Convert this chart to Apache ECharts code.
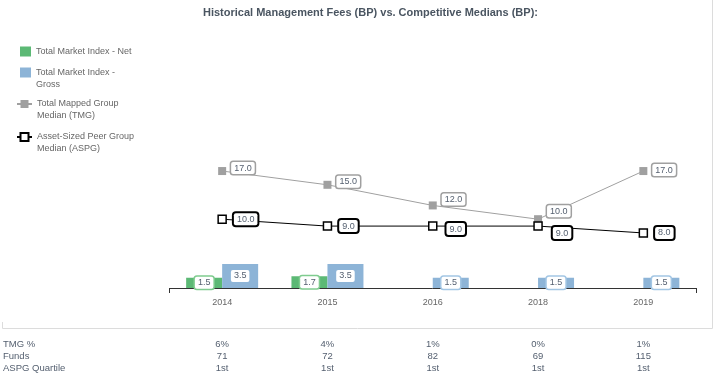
<!DOCTYPE html>
<html>
<head>
<meta charset="utf-8">
<script src="https://cdn.jsdelivr.net/npm/echarts@6/dist/echarts.min.js"></script>
<style>
  html, body { margin: 0; padding: 0; background: #fff; }
  #chart { width: 726px; height: 375px; }
</style>
</head>
<body>
<div id="chart"></div>
<script>
// data
const categories = ['2014', '2015', '2016', '2018', '2019']
const netFees = [1.5, 1.7, null, null, null]
const grossFees = [3.5, 3.5, 1.5, 1.5, 1.5]
const tmgMedian = [17, 15, 12, 10, 17]
const aspgMedian = [10, 9, 9, 9, 8]
const tmgPct = ['6%', '4%', '1%', '0%', '1%']
const funds = ['71', '72', '82', '69', '115']
const aspgQuartile = ['1st', '1st', '1st', '1st', '1st']

// label nudges so the boxes don't collide (styling only)
const tmgShift = [[0, -3], [0, -3], [0, -6], [0, -8], [0, -1]]
const aspgShift = [[0, 0], [0, 0], [2, 3], [3, 7], [0, 0]]

const font = '"Liberation Sans", Arial, sans-serif'
const green = '#5cb975'
const blue = '#8db4d7'
const textGray = '#556070'

const chart = echarts.init(document.getElementById('chart'))

function boxLabel(border, width) {
  return {
    show: true,
    fontSize: 9,
    fontFamily: font,
    color: textGray,
    backgroundColor: '#fff',
    borderColor: border,
    borderWidth: width,
    borderRadius: 2,
    padding: [2, 3, 1, 3],
    formatter: (p) => p.value.toFixed(1),
  }
}

function tableAxis(name, offset, values) {
  return {
    type: 'category',
    data: categories,
    position: 'bottom',
    offset: offset,
    axisLine: { show: false },
    axisTick: { show: false },
    axisLabel: {
      margin: 0,
      fontSize: 9.5,
      fontFamily: font,
      color: textGray,
      formatter: (v, i) => values[i],
    },
    name: name,
    nameLocation: 'start',
    nameGap: 166.5,
    nameTextStyle: {
      align: 'left',
      verticalAlign: 'top',
      fontSize: 9.5,
      fontFamily: font,
      color: textGray,
    },
  }
}

function legendFor(name, top, left, w, text, icon) {
  return {
    orient: 'vertical',
    left: left,
    top: top,
    padding: 0,
    itemWidth: w,
    itemHeight: 10,
    icon: icon,
    data: [name],
    formatter: () => text,
    textStyle: { fontSize: 9, fontFamily: font, color: '#666', lineHeight: 12 },
  }
}

let option = {
  animation: false,
  title: {
    text: 'Historical Management Fees (BP) vs. Competitive Medians (BP):',
    left: 198,
    top: 2,
    textStyle: { fontSize: 11, fontWeight: 'bold', fontFamily: font, color: '#4a5561' },
  },
  legend: [
    legendFor('Total Market Index - Net', 45.5, 20, 11, 'Total Market Index - Net', 'rect'),
    legendFor('Total Market Index - Gross', 54.5, 20, 11, '\nTotal Market Index -\nGross', 'rect'),
    legendFor('Total Mapped Group Median (TMG)', 86, 16, 15, '\nTotal Mapped Group\nMedian (TMG)'),
    legendFor('Asset-Sized Peer Group Median (ASPG)', 119, 16, 15, '\nAsset-Sized Peer Group\nMedian (ASPG)'),
  ],
  grid: { left: 169.5, right: 30, top: 116, height: 172 },
  xAxis: [
    {
      type: 'category',
      data: categories,
      axisLine: { lineStyle: { color: '#333', width: 1 } },
      axisTick: { show: true, length: 5, interval: (i) => i === 0, lineStyle: { color: '#333' } },
      axisLabel: { margin: 10, fontSize: 9, fontFamily: font, color: '#666' },
    },
    tableAxis('TMG %', 51, tmgPct),
    tableAxis('Funds', 63.5, funds),
    tableAxis('ASPG Quartile', 75.5, aspgQuartile),
  ],
  yAxis: { type: 'value', min: 0, max: 25, show: false, splitLine: { show: false } },
  series: [
    {
      name: 'Total Market Index - Net',
      type: 'bar',
      barWidth: 36,
      barGap: 0,
      itemStyle: { color: green },
      label: Object.assign(boxLabel('#7fcc8f', 1.5), { position: 'inside' }),
      data: netFees,
    },
    {
      name: 'Total Market Index - Gross',
      type: 'bar',
      barWidth: 36,
      barGap: 0,
      itemStyle: { color: blue },
      label: Object.assign(boxLabel('#fff', 0), { position: 'inside' }),
      data: grossFees.map((v) => ({
        value: v,
        label: v < 2 ? { borderColor: '#a3c6e4', borderWidth: 1.5 } : {},
      })),
    },
    {
      name: 'Total Mapped Group Median (TMG)',
      type: 'line',
      symbol: 'rect',
      symbolSize: 8,
      itemStyle: { color: '#a0a0a0' },
      lineStyle: { color: '#a0a0a0', width: 1 },
      label: Object.assign(boxLabel('#a0a0a0', 1.5), { position: 'right', distance: 5 }),
      data: tmgMedian.map((v, i) => ({ value: v, label: { offset: tmgShift[i] } })),
    },
    {
      name: 'Asset-Sized Peer Group Median (ASPG)',
      type: 'line',
      symbol: 'rect',
      symbolSize: 8,
      itemStyle: { color: '#fff', borderColor: '#000', borderWidth: 1.5 },
      lineStyle: { color: '#000', width: 1 },
      label: Object.assign(boxLabel('#000', 2), { position: 'right', distance: 7 }),
      data: aspgMedian.map((v, i) => ({ value: v, label: { offset: aspgShift[i] } })),
    },
  ],
  graphic: [
    {
      type: 'polyline',
      silent: true,
      shape: { points: [[2.5, 322], [2.5, 328.5], [712.5, 328.5], [712.5, 0]] },
      style: { stroke: '#dcdcdc', lineWidth: 1, fill: null },
    },
  ],
}

chart.setOption(option)
window.addEventListener('resize', () => {
  chart.resize()
})
</script>
</body>
</html>
